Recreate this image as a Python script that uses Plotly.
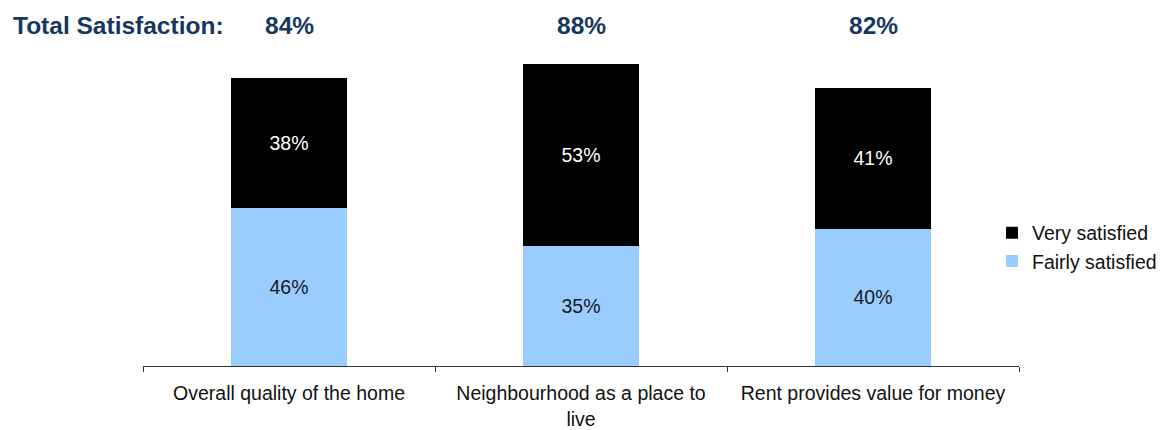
import plotly.graph_objects as go

# Survey categories and shares (%)
categories = ["Overall quality of the home",
              "Neighbourhood as a place to<br>live",
              "Rent provides value for money"]
fairly_satisfied = [46, 35, 40]
very_satisfied = [38, 53, 41]
total_satisfied = [84, 88, 82]

NAVY = "#17375E"
BLUE = "#99CCFF"
FONT = "Liberation Sans, Arial, sans-serif"

# Plot area geometry in pixels
W, H = 1164, 430
L, R, T, B = 143, 145, 40, 64
PW, PH = W - L - R, H - T - B


def px_x(px):
    return (px - L) / PW


def px_y(py):
    return (H - B - py) / PH


fig = go.Figure()
fig.add_trace(go.Bar(
    x=categories, y=fairly_satisfied, name="Fairly satisfied",
    marker=dict(color=BLUE, line=dict(width=0)),
    text=[f"{v}%" for v in fairly_satisfied], textposition="inside",
    insidetextanchor="middle", textangle=0,
    textfont=dict(color="#1a1a1a", size=19.5, family=FONT),
    width=0.4,
))
fig.add_trace(go.Bar(
    x=categories, y=very_satisfied, name="Very satisfied",
    marker=dict(color="#000000", line=dict(width=0)),
    text=[f"{v}%" for v in very_satisfied], textposition="inside",
    insidetextanchor="middle", textangle=0,
    textfont=dict(color="#ffffff", size=19.5, family=FONT),
    width=0.4,
))

# Heading and per-category totals
fig.add_annotation(x=px_x(11), xref="paper", xanchor="left",
                   y=px_y(25), yref="paper", yanchor="middle",
                   text="<b>Total Satisfaction:</b>", showarrow=False,
                   font=dict(size=24.5, color=NAVY, family=FONT))
for cat, tot in zip(categories, total_satisfied):
    fig.add_annotation(x=cat, y=px_y(25), yref="paper", yanchor="middle",
                       text=f"<b>{tot}%</b>", showarrow=False,
                       font=dict(size=24.5, color=NAVY, family=FONT))

fig.update_layout(
    width=W, height=H,
    barmode="stack",
    margin=dict(l=L, r=R, t=T, b=B, autoexpand=False),
    plot_bgcolor="white", paper_bgcolor="white",
    font=dict(family=FONT, size=19.5, color="#111111"),
    showlegend=True,
    legend=dict(traceorder="reversed", x=px_x(992), xanchor="left",
                y=px_y(247), yanchor="middle",
                font=dict(size=19.5, color="#111111", family=FONT),
                bgcolor="rgba(0,0,0,0)"),
    xaxis=dict(showline=True, linecolor="#333333", linewidth=1,
               ticks="outside", tickson="boundaries", ticklen=5,
               tickcolor="#333333", ticklabelstandoff=10,
               showgrid=False, tickfont=dict(size=19.5, color="#111111")),
    yaxis=dict(range=[0, 95], visible=False, showgrid=False),
)

fig.write_html("out.html")
